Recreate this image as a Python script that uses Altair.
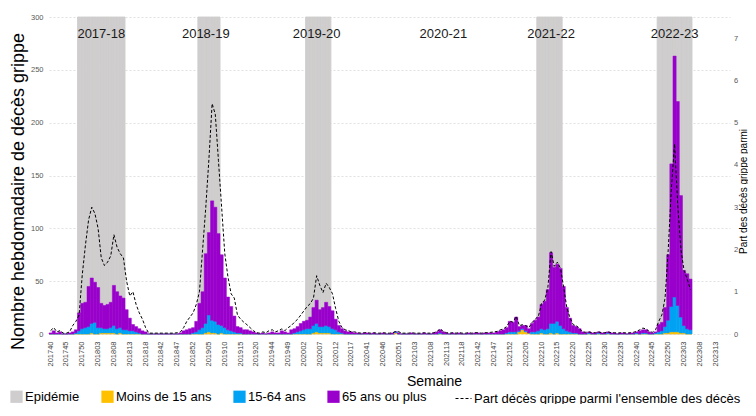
import altair as alt
import pandas as pd


def semaines(annee, debut, fin):
    return [f"{annee}{s:02d}" for s in range(debut, fin + 1)]


# Catégories : semaines ISO des périodes de surveillance
SEMAINES = (semaines(2017, 40, 52) + semaines(2018, 1, 20)
            + semaines(2018, 40, 52) + semaines(2019, 1, 20)
            + semaines(2019, 40, 52) + semaines(2020, 1, 20)
            + semaines(2020, 40, 53) + semaines(2021, 1, 20)
            + semaines(2021, 40, 52) + semaines(2022, 1, 52)
            + semaines(2023, 1, 17))

# ---- Moins de 15 ans
MOINS15_1718 = [0]*13 + [1, 0, 0, 1, 1, 1, 1, 1, 0, 1] + [0]*10
MOINS15_1819 = [0]*16 + [1, 2, 1, 1, 0, 1] + [0]*11
MOINS15_1920 = [0]*17 + [1, 2, 1, 1, 1, 1] + [0]*10
MOINS15_2021 = [0]*10 + [1] + [0]*23
MOINS15_2122 = [0]*13
MOINS15_2022 = [0, 0, 2, 4, 2, 1, 0, 0, 0, 1, 0, 0, 1, 0, 1, 0, 0, 0, 0, 0,
                0, 0, 0, 0, 0, 0, 0, 0, 0, 0, 0, 0, 0, 0, 0, 0, 0, 0, 0, 0,
                0, 0, 0, 0, 0, 0, 0, 0, 1, 1, 2, 2]
MOINS15_2023 = [2, 1, 1, 0, 0, None, None, None, None, None, None, None, None, None, None, None, None]

# ---- 15-64 ans
ADULTES_1718 = [0, 0, 0, 0, 0, 0, 0, 0, 1, 3, 5, 6, 7, 9, 11, 6, 5, 4, 4, 5,
                7, 5, 5, 4, 4, 3, 3, 2, 1, 0, 0, 0, 0]
ADULTES_1819 = [0]*12 + [1, 2, 4, 6, 9, 16, 12, 11, 9, 7, 6, 4, 3, 2, 1, 1] + [0]*5
ADULTES_1920 = [0]*11 + [1, 2, 3, 4, 5, 5, 7, 8, 6, 6, 7, 6, 5, 4, 2, 1] + [0]*6
ADULTES_2021 = [0]*10 + [1] + [0]*13 + [1] + [0]*9
ADULTES_2122 = [0]*11 + [1, 2]
ADULTES_2022 = [2, 2, 1, 1, 1, 0, 2, 2, 3, 4, 4, 5, 9, 10, 11, 8, 5, 3, 2, 1,
                1, 0, 0, 0, 1, 0, 0, 1, 0, 0, 1, 0, 0, 0, 0, 0, 0, 0, 0, 1,
                0, 1, 1, 0, 0, 1, 2, 3, 6, 12, 24, 33]
ADULTES_2023 = [25, 15, 7, 5, 4, None, None, None, None, None, None, None, None, None, None, None, None]

# ---- 65 ans ou plus
SENIORS_1718 = [1, 3, 1, 2, 0, 0, 1, 2, 3, 17, 24, 24, 38, 43, 38, 38, 23, 22, 23, 24,
                38, 35, 30, 30, 19, 12, 6, 5, 4, 3, 2, 0, 0]
SENIORS_1819 = [0, 0, 0, 0, 0, 0, 0, 0, 1, 3, 4, 5, 5, 10, 25, 34, 66, 78, 113, 108,
                86, 67, 47, 31, 23, 15, 6, 5, 4, 4, 3, 2, 1]
SENIORS_1920 = [0, 1, 0, 1, 2, 1, 1, 3, 2, 1, 4, 4, 5, 7, 8, 8, 11, 17, 22, 16,
                18, 22, 19, 17, 10, 6, 4, 3, 2, 2, 1, 1, 0]
SENIORS_2021 = [1, 1, 0, 1, 0, 0, 1, 0, 0, 1, 0, 1, 0, 0, 0, 1, 0, 0, 0, 1,
                0, 0, 1, 2, 3, 2, 1, 0, 1, 0, 1, 0, 0, 1]
SENIORS_2122 = [0, 1, 1, 0, 1, 1, 1, 1, 2, 3, 4, 5, 10]
SENIORS_2022 = [9, 14, 4, 3, 5, 4, 8, 11, 13, 23, 27, 37, 67, 53, 54, 54, 40, 22, 13, 7,
                6, 5, 2, 1, 1, 1, 1, 1, 1, 1, 1, 1, 1, 0, 1, 1, 0, 1, 1, 1,
                3, 3, 3, 2, 1, 1, 7, 8, 18, 62, 135, 228]
SENIORS_2023 = [193, 115, 52, 52, 48, None, None, None, None, None, None, None, None, None, None, None, None]

# ---- Part des décès grippe parmi l'ensemble des décès (%)
PART_1718 = [0.08, 0.15, 0.05, 0.08, 0.02, 0.02, 0.05, 0.2, 0.3, 0.45, 1.4, 2.1, 2.7, 3.0, 2.85,
             2.5, 1.8, 1.62, 1.7, 1.85, 2.35, 2.05, 1.9, 1.8, 1.25, 0.9, 1.0, 0.7, 0.5, 0.35,
             0.15, 0.02, 0.02]
PART_1819 = [0.02, 0.02, 0.02, 0.02, 0.02, 0.02, 0.02, 0.03, 0.05, 0.15, 0.3, 0.4, 0.5, 0.7, 1.0,
             2.0, 3.0, 4.15, 5.45, 5.2, 4.1, 3.0, 1.9, 1.35, 0.95, 0.85, 0.45, 0.35, 0.28, 0.22,
             0.15, 0.08, 0.03]
PART_1920 = [0.02, 0.05, 0.03, 0.08, 0.1, 0.05, 0.08, 0.12, 0.08, 0.15, 0.2, 0.28, 0.35, 0.45, 0.55,
             0.65, 0.72, 0.85, 1.38, 1.15, 0.98, 1.2, 1.1, 0.95, 0.6, 0.3, 0.15, 0.1, 0.08, 0.05,
             0.05, 0.03, 0.02]
PART_2021 = [0.03, 0.03, 0.02, 0.03, 0.02, 0.02, 0.03, 0.02, 0.02, 0.03, 0.06, 0.05, 0.02, 0.02, 0.02,
             0.03, 0.02, 0.02, 0.02, 0.03, 0.02, 0.02, 0.03, 0.06, 0.12, 0.06, 0.03, 0.02, 0.03, 0.02,
             0.03, 0.02, 0.02, 0.03]
PART_2122 = [0.02, 0.03, 0.03, 0.02, 0.03, 0.03, 0.04, 0.05, 0.06, 0.1, 0.12, 0.18, 0.3]
PART_2022 = [0.28, 0.42, 0.2, 0.22, 0.2, 0.15, 0.27, 0.35, 0.42, 0.72, 0.8, 1.1, 1.95, 1.6, 1.7,
             1.55, 1.1, 0.62, 0.38, 0.22, 0.2, 0.12, 0.05, 0.04, 0.05, 0.03, 0.03, 0.05, 0.03, 0.03,
             0.05, 0.03, 0.03, 0.02, 0.03, 0.03, 0.02, 0.03, 0.04, 0.06, 0.1, 0.14, 0.12, 0.06, 0.04,
             0.1, 0.3, 0.45, 0.85, 2.0, 3.45, 4.5]
PART_2023 = [3.05, 2.0, 1.5, 1.3, 1.05, None, None, None, None, None, None, None, None, None, None, None, None]

# Périodes épidémiques (première et dernière semaine)
EPIDEMIES = [("201749", "201811"), ("201902", "201908"), ("202003", "202010"),
             ("202209", "202216"), ("202247", "202305")]
# Saisons annotées et semaine où l'étiquette est centrée
SAISONS = ["2017-18", "2018-19", "2019-20", "2020-21", "2021-22", "2022-23"]
SAISONS_SEMAINE = ["201804", "201904", "202006", "202112", "202213", "202252"]

Y_MAX = 300
Y2_MAX = 7.5
ETIQ_Y = 284

MOINS15 = MOINS15_1718 + MOINS15_1819 + MOINS15_1920 + MOINS15_2021 + MOINS15_2122 + MOINS15_2022 + MOINS15_2023
ADULTES = ADULTES_1718 + ADULTES_1819 + ADULTES_1920 + ADULTES_2021 + ADULTES_2122 + ADULTES_2022 + ADULTES_2023
SENIORS = SENIORS_1718 + SENIORS_1819 + SENIORS_1920 + SENIORS_2021 + SENIORS_2122 + SENIORS_2022 + SENIORS_2023
PART = PART_1718 + PART_1819 + PART_1920 + PART_2021 + PART_2122 + PART_2022 + PART_2023
for serie in (MOINS15, ADULTES, SENIORS, PART):
    assert len(serie) == len(SEMAINES), (len(serie), len(SEMAINES))

NOM_LIGNE = "Part décès grippe parmi l'ensemble des décès"
COULEURS = {"Epidémie": "#CFCDCD", "Moins de 15 ans": "#FFC000",
            "15-64 ans": "#00A2F4", "65 ans ou plus": "#9A00CC"}

# ---- tables
rows = []
for i, w in enumerate(SEMAINES):
    for rang, (nom, serie) in enumerate([("Moins de 15 ans", MOINS15), ("15-64 ans", ADULTES),
                                         ("65 ans ou plus", SENIORS)]):
        if serie[i] is not None:
            rows.append({"semaine": w, "serie": nom, "valeur": serie[i], "rang": rang})
df_barres = pd.DataFrame(rows)

epi_rows = []
for a, b in EPIDEMIES:
    for w in SEMAINES[SEMAINES.index(a):SEMAINES.index(b) + 1]:
        epi_rows.append({"semaine": w, "serie": "Epidémie", "haut": Y_MAX})
df_epi = pd.DataFrame(epi_rows)

df_ligne = pd.DataFrame([{"semaine": w, "part": p, "nom": NOM_LIGNE}
                         for w, p in zip(SEMAINES, PART) if p is not None])
df_saisons = pd.DataFrame({"saison": SAISONS, "semaine": SAISONS_SEMAINE})

# ---- scales & axes
x_scale = alt.Scale(domain=SEMAINES, paddingInner=0, paddingOuter=0)
x_axis = alt.Axis(values=SEMAINES[::5], labelAngle=270, labelAlign="right", labelBaseline="middle",
                  labelFontSize=7.5, labelColor="#404040", labelPadding=7, labelOverlap=False,
                  ticks=False, domain=False, grid=False,
                  title="Semaine", titleFontSize=14, titleFontWeight="normal", titleColor="#000000",
                  titleX=385, titleY=47, titleAlign="center", titleBaseline="middle")
X = alt.X("semaine:O", scale=x_scale, axis=x_axis)
X_MID = alt.X("semaine:O", scale=x_scale, axis=x_axis, bandPosition=0.5)

y_scale = alt.Scale(domain=[0, Y_MAX], nice=False)
y_axis = alt.Axis(values=list(range(0, Y_MAX + 1, 50)), labelFontSize=7.5, labelColor="#595959",
                  labelPadding=6, ticks=False, domain=False, grid=True, gridColor="#D9D9D9",
                  gridDash=[2, 2], gridWidth=0.8,
                  title="Nombre hebdomadaire de décès grippe", titleFontSize=18,
                  titleFontWeight="normal", titleColor="#000000", titleAngle=270,
                  titleX=-31, titleY=174, titleAlign="center", titleBaseline="middle")
y2_scale = alt.Scale(domain=[0, Y2_MAX], nice=False)
y2_axis = alt.Axis(orient="right", values=list(range(0, 8)), labelFontSize=7.5, labelColor="#595959",
                   labelPadding=3.5, ticks=False, domain=False, grid=False,
                   title="Part des décès grippe parmi", titleFontSize=10,
                   titleFontWeight="normal", titleColor="#000000", titleAngle=270,
                   titleX=8, titleY=174, titleAlign="center", titleBaseline="top")

color_scale = alt.Scale(domain=list(COULEURS), range=list(COULEURS.values()))
leg_color = alt.Legend(orient="none", legendX=-39, legendY=373, direction="horizontal", title=None,
                       symbolType="square", symbolSize=150, symbolStrokeWidth=0,
                       labelFontSize=13, labelColor="#000000", labelOffset=2, columnPadding=21,
                       padding=0, labelLimit=300)
leg_dash = alt.Legend(orient="none", legendX=406, legendY=373, direction="horizontal", title=None,
                      symbolType="stroke", symbolSize=256, symbolStrokeColor="#000000",
                      symbolStrokeWidth=1, labelFontSize=13, labelColor="#000000", labelOffset=2,
                      padding=0, labelLimit=275)

bandes = alt.Chart(df_epi).mark_bar(stroke=COULEURS["Epidémie"], strokeWidth=0.9).encode(
    x=X,
    y=alt.Y("haut:Q", scale=y_scale, axis=y_axis),
    color=alt.Color("serie:N", scale=color_scale, legend=leg_color),
)

barres = alt.Chart(df_barres).mark_bar(strokeWidth=0.5).encode(
    x=X,
    y=alt.Y("valeur:Q", stack="zero", scale=y_scale, axis=y_axis),
    color=alt.Color("serie:N", scale=color_scale, legend=leg_color),
    stroke=alt.Stroke("serie:N", scale=color_scale, legend=None),
    order=alt.Order("rang:Q", sort="ascending"),
)

etiquettes = alt.Chart(df_saisons).mark_text(
    font="Liberation Sans", fontSize=13, color="#1A1A1A", baseline="middle", align="center").encode(
    x=X_MID,
    y=alt.YDatum(ETIQ_Y, type="quantitative", scale=y_scale, axis=y_axis),
    text="saison:N",
)

ligne = alt.Chart(df_ligne).mark_line(color="#000000", strokeWidth=1).encode(
    x=X_MID,
    y=alt.Y("part:Q", scale=y2_scale, axis=y2_axis),
    strokeDash=alt.StrokeDash("nom:N", scale=alt.Scale(domain=[NOM_LIGNE], range=[[3, 2]]),
                              legend=leg_dash),
)

interne = alt.layer(bandes, barres, etiquettes)
chart = (alt.layer(interne, ligne)
         .resolve_scale(y="independent")
         .properties(width=681, height=317,
                     autosize=alt.AutoSizeParams(type="none"),
                     padding={"left": 41, "top": 9, "right": 18, "bottom": 70})
         .configure(font="Liberation Sans")
         .configure_view(stroke=None))

chart.save("out.html", embed_options={"renderer": "svg", "actions": False})
